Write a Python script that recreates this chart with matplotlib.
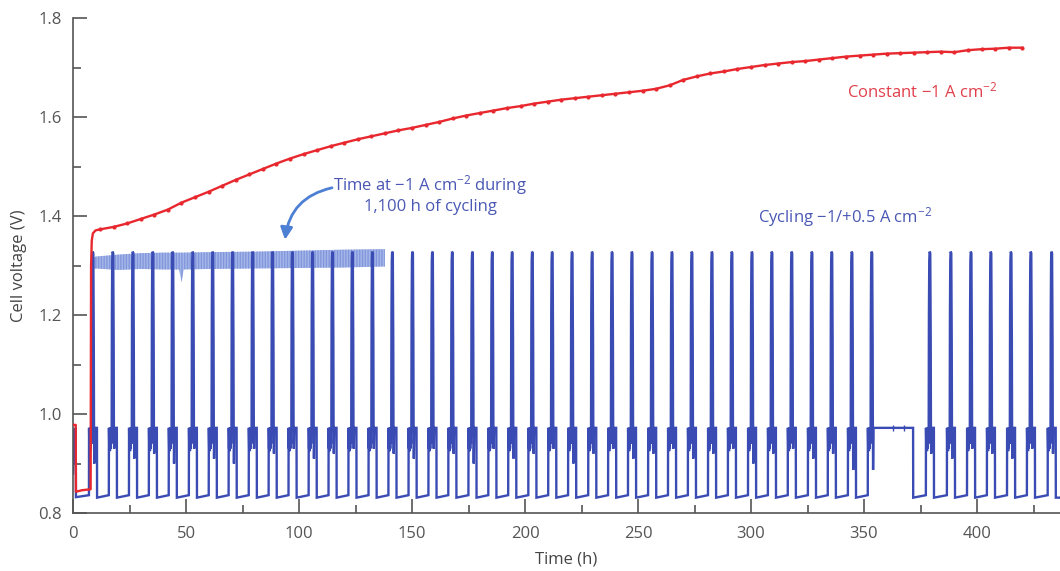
import numpy as np
import matplotlib.pyplot as plt

plt.rcParams['font.family'] = ['Open Sans', 'DejaVu Sans']
plt.rcParams['mathtext.fontset'] = 'custom'
plt.rcParams['mathtext.rm'] = 'Open Sans'
plt.rcParams['mathtext.default'] = 'regular'
plt.rcParams['hatch.linewidth'] = 0.9

# constant current run (red)
red_start_t = [0, 1.2, 1.3, 4.0, 7.8, 8.0, 8.3, 8.8, 10.0]
red_start_v = [0.978, 0.978, 0.843, 0.846, 0.848, 1.30, 1.35, 1.365, 1.371]
red_t = list(range(12, 421, 6))
red_v = [1.373, 1.378, 1.385, 1.394, 1.403, 1.413, 1.427, 1.438, 1.449, 1.461,
         1.473, 1.484, 1.495, 1.506, 1.516, 1.525, 1.533, 1.541, 1.548, 1.555,
         1.561, 1.567, 1.573, 1.578, 1.584, 1.590, 1.597, 1.603, 1.608, 1.613,
         1.618, 1.622, 1.627, 1.631, 1.635, 1.638, 1.641, 1.644, 1.647, 1.650,
         1.653, 1.657, 1.664, 1.675, 1.682, 1.688, 1.692, 1.697, 1.701, 1.705,
         1.708, 1.711, 1.713, 1.716, 1.719, 1.722, 1.724, 1.726, 1.728, 1.729,
         1.730, 1.731, 1.732, 1.731, 1.735, 1.737, 1.738, 1.740, 1.740]

# cycling run (blue): start time of each cycle and the post-spike dip
cycle_starts = [7.1, 15.9, 24.8, 33.6, 42.4, 51.3, 60.1, 68.9, 77.8, 86.6,
                95.4, 104.3, 113.1, 121.9, 130.8, 139.6, 148.5, 157.3, 166.1, 175.0,
                183.8, 192.6, 201.5, 210.3, 219.1, 228.0, 236.8, 245.6, 254.5, 263.3,
                272.1, 281.0, 289.8, 298.7, 307.5, 316.3, 325.2, 334.0, 342.9, 351.7,
                377.4, 386.7, 395.6, 404.4, 413.3, 422.1, 431.3]
cycle_dips = [0.90, 0.93, 0.91, 0.92, 0.90, 0.93, 0.91, 0.90, 0.93, 0.92,
              0.93, 0.91, 0.92, 0.93, 0.93, 0.92, 0.91, 0.93, 0.92, 0.90,
              0.93, 0.91, 0.92, 0.93, 0.90, 0.92, 0.93, 0.91, 0.92, 0.93,
              0.91, 0.92, 0.93, 0.90, 0.92, 0.93, 0.91, 0.92, 0.887, 0.887,
              0.92, 0.91, 0.93, 0.92, 0.91, 0.93, 0.92]
# shape of one cycle, hours after its start
cycle_dt = [0.0, 0.15, 0.3, 0.45, 0.6, 0.75, 0.9, 1.05, 1.2, 1.3, 1.45, 1.6, 1.9, 2.1, 2.2]
cycle_v = [0.972, 0.93, 0.972, 0.925, 0.972, 0.93, 0.972, 0.94, 0.972, 1.20, 1.31, 1.328, 1.325, 1.15, 0.972]
high_v = 0.972
low_v = 0.831
high_len = 3.5
gap_end = 371.7
gap_marks = [363.0, 367.5]

# start of test, before the first cycle
blue_t = [0, 0.3, 0.6, 0.9, 1.2, 1.3]
blue_v = [0.88, 0.97, 0.90, 0.97, 0.97, 0.832]

# light band: compressed time at -1 A cm-2
band_t = [8.3, 10, 20, 30, 40, 47, 48, 49, 60, 80, 100, 120, 138]
band_hi = [1.312, 1.318, 1.322, 1.325, 1.326, 1.326, 1.326, 1.326, 1.327, 1.328, 1.330, 1.332, 1.333]
band_lo = [1.29, 1.294, 1.291, 1.293, 1.292, 1.292, 1.266, 1.292, 1.293, 1.294, 1.295, 1.296, 1.298]

for i, s in enumerate(cycle_starts):
    blue_t += [s - 0.05, s]
    blue_v += [0.836, high_v]
    blue_t += [s + d for d in cycle_dt]
    blue_v += cycle_v
    blue_t += [s + 2.3, s + 2.5]
    blue_v += [cycle_dips[i], high_v]
    if i + 1 < len(cycle_starts) and cycle_starts[i + 1] - s > 15:
        blue_t += [gap_end, gap_end + 0.05]
    else:
        blue_t += [s + high_len, s + high_len + 0.05]
    blue_v += [high_v, low_v]
blue_t.append(440)
blue_v.append(low_v)

blue = '#3a4cb4'
red = '#e8282e'
grey = '#555555'

fig = plt.figure(figsize=(10.6, 5.71), dpi=100)
ax = fig.add_axes([73 / 1060, 58 / 571, 987 / 1060, 495 / 571])

ax.fill_between(band_t, band_lo, band_hi, facecolor='#a3b5e9', edgecolor='#8196db',
                hatch='||||||', lw=0, zorder=1)
ax.plot(blue_t, blue_v, color=blue, lw=1.7, zorder=2, solid_joinstyle='miter')
ax.plot(gap_marks, [high_v, high_v], ls='none', marker='|', ms=4, color=blue, zorder=2)
ax.plot(red_start_t + red_t, red_start_v + red_v, color=red, lw=1.7, zorder=3)
ax.plot(red_t, red_v, ls='none', marker='o', ms=2.0, color=red, zorder=3)

ax.set_xticks(range(0, 451, 50))
ax.set_xticks(range(25, 451, 50), minor=True)
ax.set_yticks([0.8, 1.0, 1.2, 1.4, 1.6, 1.8])
ax.set_yticks([0.9, 1.1, 1.3, 1.5, 1.7], minor=True)
ax.yaxis.set_major_formatter(plt.FormatStrFormatter('%.1f'))
ax.set_xlim(0, 436.7)
ax.set_ylim(0.8, 1.8)

for side in ['top', 'right']:
    ax.spines[side].set_visible(False)
for side in ['left', 'bottom']:
    ax.spines[side].set_color(grey)
    ax.spines[side].set_linewidth(1.2)
ax.tick_params(which='both', direction='in', color=grey, width=1.2, labelcolor=grey, labelsize=12)
ax.tick_params(which='major', length=10)
ax.tick_params(which='minor', length=5.5)
ax.tick_params(axis='y', pad=8)
ax.tick_params(axis='x', pad=9)

ax.set_xlabel('Time (h)', fontsize=12, color='#444444', labelpad=7)
ax.set_ylabel('Cell voltage (V)', fontsize=12, color='#444444', labelpad=8)

ax.text(375.7, 1.652, 'Constant \u22121 A cm$^{\u22122}$', color='#e0404c', fontsize=12,
        ha='center', va='center')
ax.text(158, 1.463, 'Time at \u22121 A cm$^{\u22122}$ during', color='#4a58b4', fontsize=12,
        ha='center', va='center')
ax.text(158, 1.418, '1,100 h of cycling', color='#4a58b4', fontsize=12,
        ha='center', va='center')
ax.text(341.6, 1.398, 'Cycling \u22121/+0.5 A cm$^{\u22122}$', color='#4a58b4', fontsize=12,
        ha='center', va='center')
ax.annotate('', xy=(93.8, 1.352), xytext=(114.6, 1.457),
            arrowprops=dict(arrowstyle='-|>', color='#4d7fd4', lw=2,
                            connectionstyle='arc3,rad=0.35', mutation_scale=18,
                            shrinkA=0, shrinkB=0))

fig.savefig('out.png', dpi=100)
